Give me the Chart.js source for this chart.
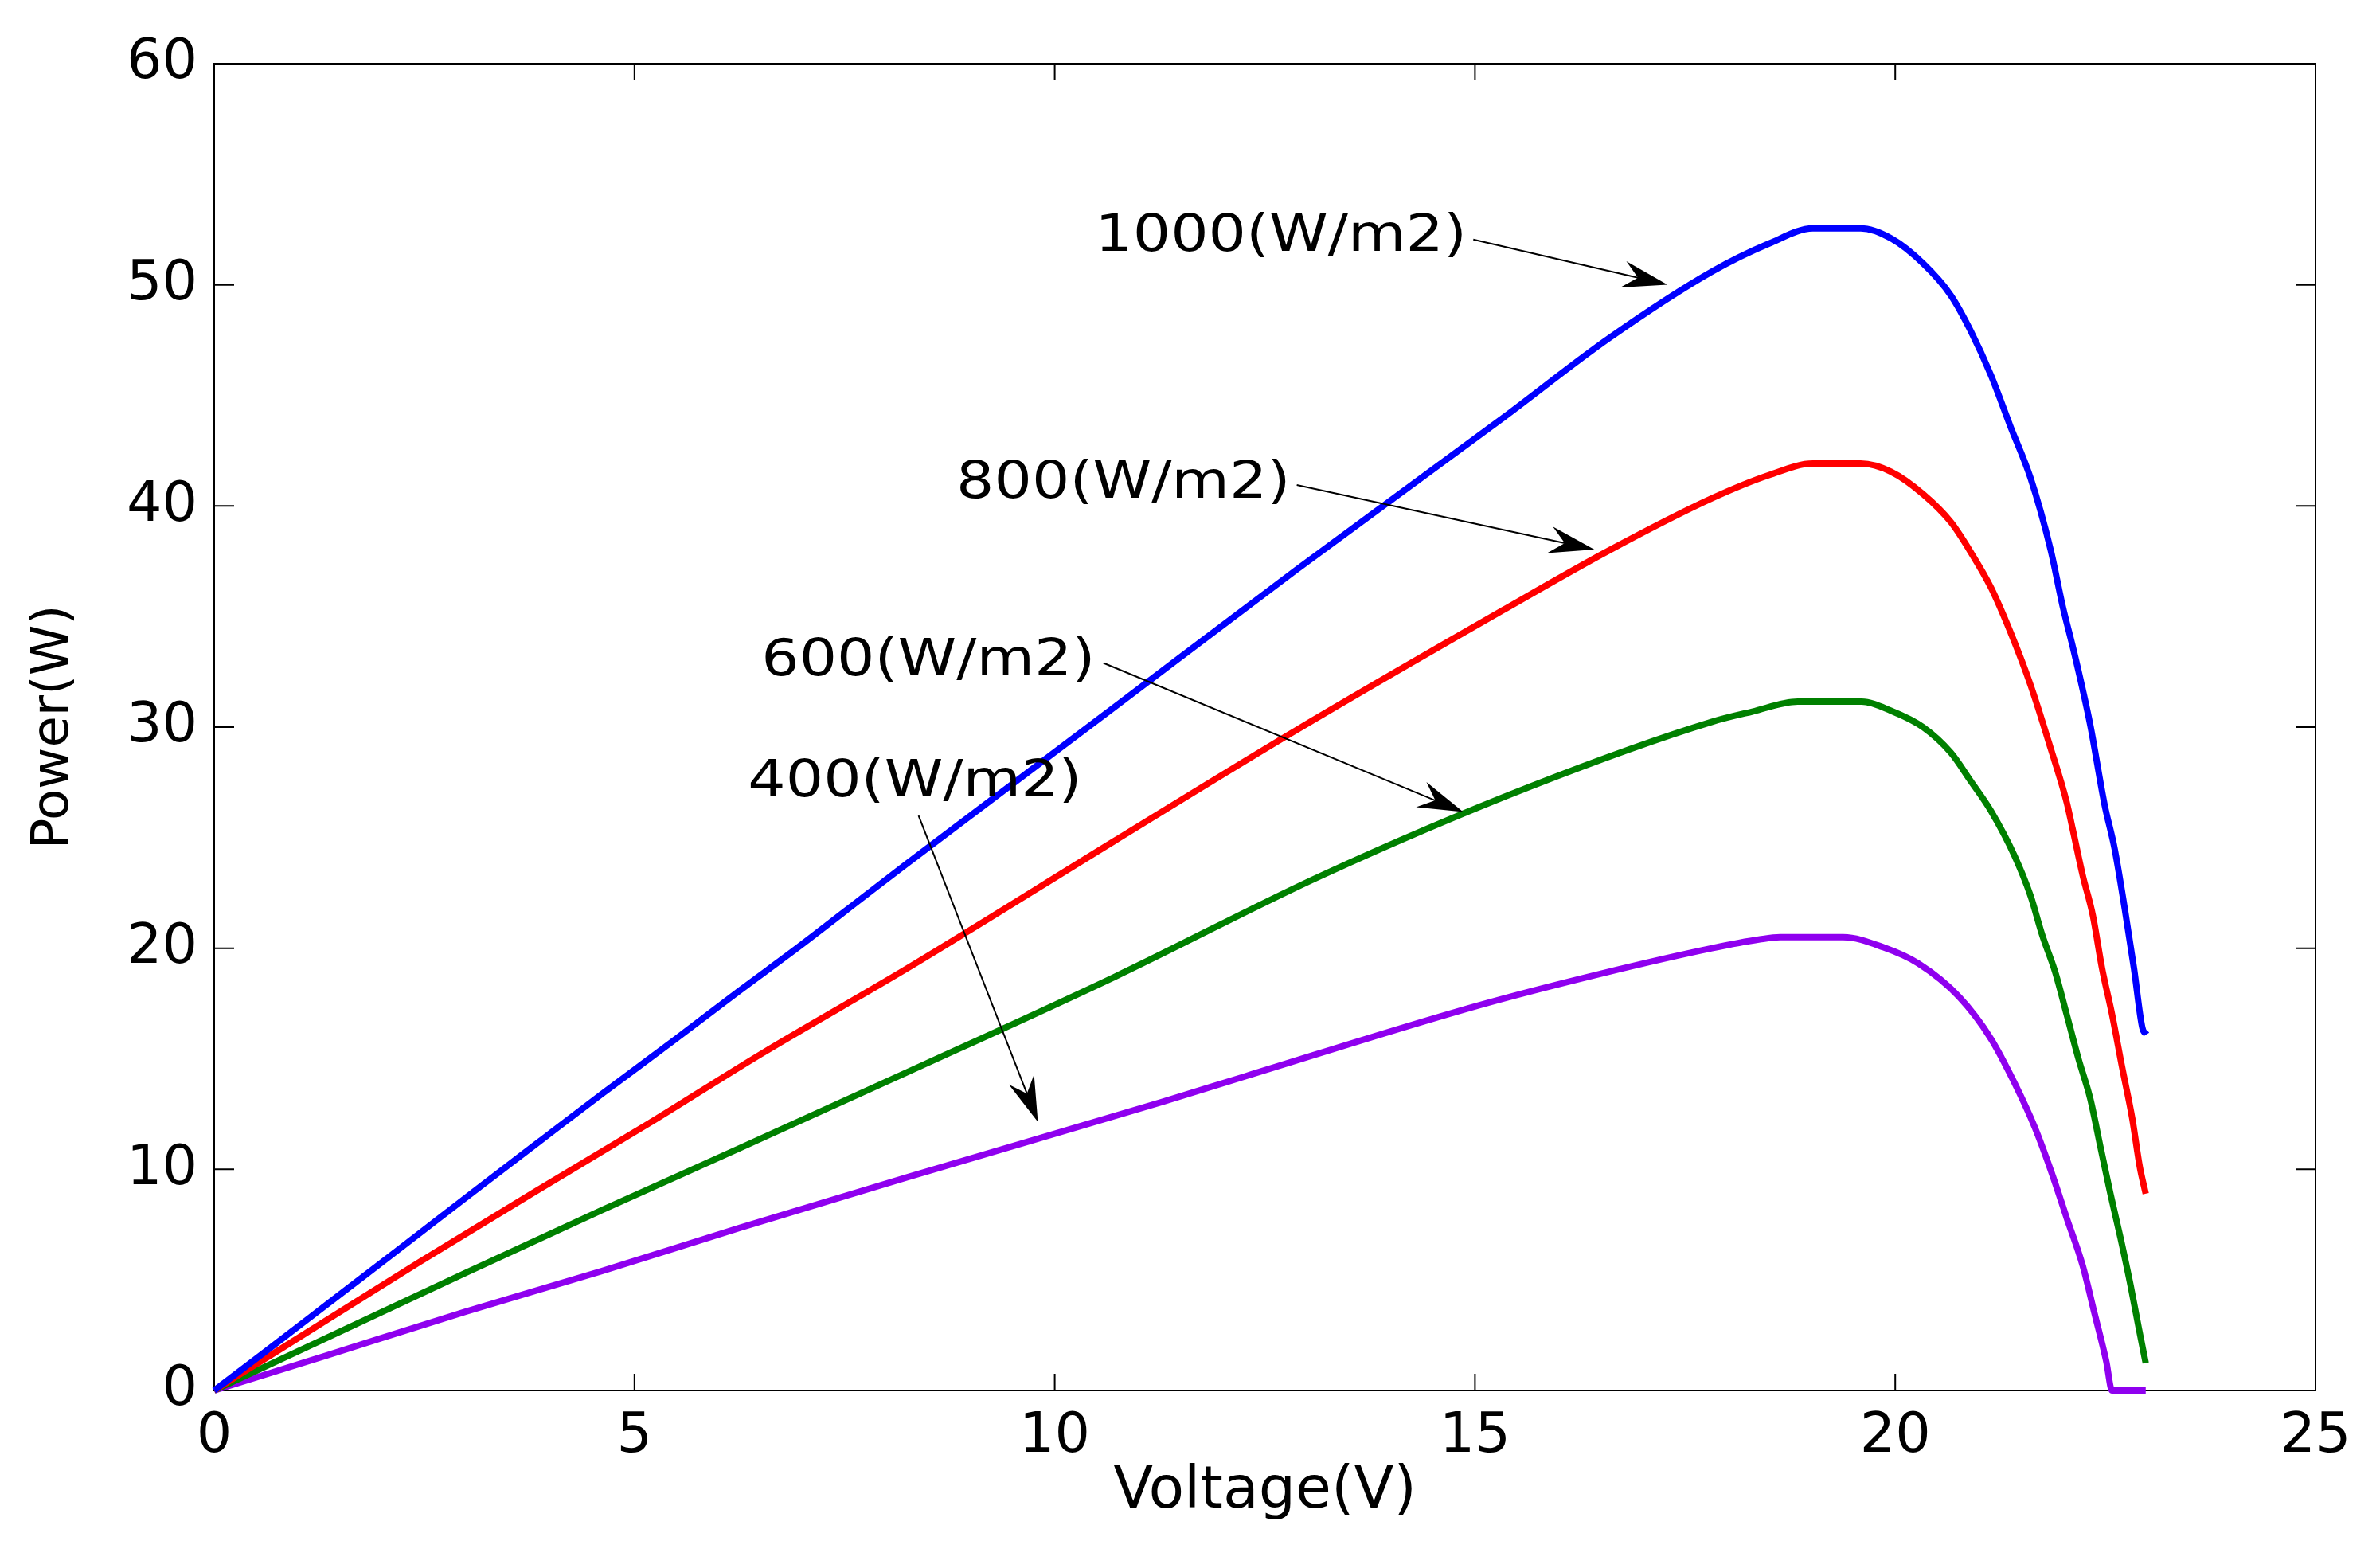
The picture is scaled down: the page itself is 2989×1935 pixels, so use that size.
<!DOCTYPE html>
<html><head><meta charset="utf-8">
<script src="https://cdn.jsdelivr.net/npm/chart.js@4"></script>
<style>html,body{margin:0;padding:0;background:#fff;overflow:hidden}canvas{display:block}</style>
</head><body>
<canvas id="c" width="2989" height="1935" style="width:2989px;height:1935px"></canvas>
<script>
const xTicks = [0, 5, 10, 15, 20, 25];
const yTicks = [0, 10, 20, 30, 40, 50, 60];
const seriesNames = ['1000(W/m2)', '800(W/m2)', '600(W/m2)', '400(W/m2)'];

const v1000 = [0, 0.59, 1.43, 2.22, 3.09, 3.9, 4.61, 5.51, 6.25, 6.95, 7.77, 8.25, 10.71, 12.87, 15.34, 16.6, 17.82, 18.5, 19.02, 19.59, 19.95, 20.33, 20.66, 20.9, 21.14, 21.37, 21.61, 21.85, 21.99, 22.13, 22.32, 22.49, 22.61, 22.73, 22.84, 22.94, 22.99];
const p1000 = [0, 1.7, 4.15, 6.45, 9.0, 11.35, 13.4, 15.95, 18.08, 20.05, 22.45, 23.85, 30.9, 37.1, 44.0, 47.6, 50.6, 51.87, 52.55, 52.55, 52.1, 50.97, 49.53, 47.9, 45.9, 43.6, 41.26, 38.0, 35.5, 33.35, 30.1, 26.5, 24.5, 21.8, 19.1, 16.4, 16.1];

const v800 = [0, 0.8, 2.44, 3.8, 5.16, 6.52, 8.25, 10.71, 12.87, 15.34, 16.6, 17.82, 18.5, 19.02, 19.59, 19.95, 20.33, 20.66, 20.9, 21.14, 21.37, 21.61, 21.85, 22.04, 22.11, 22.23, 22.35, 22.46, 22.58, 22.7, 22.82, 22.91, 22.98];
const p800 = [0, 1.9, 5.8, 8.95, 12.05, 15.25, 19.1, 24.85, 29.85, 35.3, 38.0, 40.35, 41.4, 41.92, 41.92, 41.55, 40.54, 39.28, 37.9, 36.3, 34.3, 31.9, 29.03, 26.6, 25.4, 23.3, 21.5, 19.1, 17.0, 14.6, 12.3, 10.1, 8.9];

const v600 = [0, 1.35, 2.98, 4.61, 6.25, 8.25, 10.71, 13.18, 15.65, 17.82, 18.3, 18.84, 19.6, 19.95, 20.33, 20.66, 20.9, 21.14, 21.42, 21.61, 21.75, 21.9, 22.04, 22.18, 22.32, 22.44, 22.56, 22.68, 22.8, 22.9, 22.98];
const p600 = [0, 2.4, 5.3, 8.15, 10.95, 14.4, 18.7, 23.3, 27.3, 30.24, 30.7, 31.15, 31.15, 30.74, 30.0, 28.85, 27.55, 26.2, 24.17, 22.37, 20.58, 18.96, 17.0, 15.0, 13.2, 11.04, 8.9, 6.9, 4.75, 2.77, 1.24];

const v400 = [0, 1.35, 2.98, 4.61, 6.25, 8.25, 11.28, 12.26, 15.03, 16.5, 17.82, 18.39, 18.63, 19.38, 19.86, 20.28, 20.76, 21.14, 21.42, 21.66, 21.85, 22.04, 22.23, 22.37, 22.51, 22.58, 22.98];
const p400 = [0, 1.6, 3.55, 5.4, 7.35, 9.65, 13.05, 14.2, 17.4, 18.85, 20.0, 20.4, 20.5, 20.5, 20.04, 19.3, 17.8, 15.9, 13.9, 11.9, 9.96, 7.8, 5.65, 3.5, 1.33, 0, 0];

// annotation anchors in data units: text (left, middle), arrow start, arrow tip
const labelAt = [[10.48, 52.14], [8.83, 40.97], [6.51, 32.95], [6.35, 27.48]];
const arrowFrom = [[14.98, 52.05], [12.88, 40.95], [10.58, 32.9], [8.38, 26.0]];
const arrowTo = [[17.29, 50.01], [16.42, 38.03], [14.86, 26.16], [9.80, 12.15]];

const colors = ['#0000FF', '#FF0000', '#008000', '#8F00EF'];
const vs = [v1000, v800, v600, v400];
const ps = [p1000, p800, p600, p400];

const datasets = seriesNames.map((n, i) => ({
  label: n,
  data: vs[i].map((v, k) => ({x: v, y: ps[i][k]})),
  borderColor: colors[i],
  backgroundColor: colors[i],
  borderWidth: 8,
  pointRadius: 0,
  cubicInterpolationMode: 'monotone',
  fill: false,
  borderJoinStyle: 'round',
  borderCapStyle: 'butt'
}));

const frame = {
  id: 'frame',
  beforeDatasetsDraw(chart) {
    const {ctx, chartArea: a, scales: {x, y}} = chart;
    ctx.save();
    ctx.strokeStyle = '#000';
    ctx.lineWidth = 2;
    ctx.strokeRect(a.left, a.top, a.right - a.left, a.bottom - a.top);
    ctx.beginPath();
    xTicks.forEach(v => {
      const px = x.getPixelForValue(v);
      ctx.moveTo(px, a.bottom); ctx.lineTo(px, a.bottom - 21);
      ctx.moveTo(px, a.top); ctx.lineTo(px, a.top + 21);
    });
    yTicks.forEach(v => {
      const py = y.getPixelForValue(v);
      ctx.moveTo(a.left, py); ctx.lineTo(a.left + 25, py);
      ctx.moveTo(a.right, py); ctx.lineTo(a.right - 25, py);
    });
    ctx.stroke();
    ctx.restore();
  },
  afterDatasetsDraw(chart) {
    const {ctx, scales: {x, y}} = chart;
    ctx.save();
    ctx.fillStyle = '#000';
    ctx.strokeStyle = '#000';
    ctx.font = '64px "DejaVu Sans"';
    ctx.textBaseline = 'middle';
    ctx.textAlign = 'left';
    seriesNames.forEach((n, i) => {
      const tx = x.getPixelForValue(labelAt[i][0]);
      const ty = y.getPixelForValue(labelAt[i][1]);
      ctx.save();
      ctx.translate(tx, ty);
      ctx.scale(1.165, 1);
      ctx.fillText(n, 0, 0);
      ctx.restore();
      const sx = x.getPixelForValue(arrowFrom[i][0]);
      const sy = y.getPixelForValue(arrowFrom[i][1]);
      const ex = x.getPixelForValue(arrowTo[i][0]);
      const ey = y.getPixelForValue(arrowTo[i][1]);
      const L = Math.hypot(ex - sx, ey - sy);
      const ux = (ex - sx) / L, uy = (ey - sy) / L;
      const nx = -uy, ny = ux;
      const hl = 57, hw = 17, notch = 38;
      ctx.lineWidth = 2;
      ctx.beginPath();
      ctx.moveTo(sx, sy);
      ctx.lineTo(ex - notch * ux, ey - notch * uy);
      ctx.stroke();
      ctx.beginPath();
      ctx.moveTo(ex, ey);
      ctx.lineTo(ex - hl * ux + hw * nx, ey - hl * uy + hw * ny);
      ctx.lineTo(ex - notch * ux, ey - notch * uy);
      ctx.lineTo(ex - hl * ux - hw * nx, ey - hl * uy - hw * ny);
      ctx.closePath();
      ctx.fill();
    });
    ctx.restore();
  }
};

new Chart(document.getElementById('c'), {
  type: 'line',
  data: {datasets},
  options: {
    responsive: false,
    devicePixelRatio: 1,
    animation: false,
    events: [],
    clip: false,
    layout: {padding: {left: 0, top: 80, right: 81, bottom: 0}},
    plugins: {legend: {display: false}, tooltip: {enabled: false}},
    scales: {
      x: {
        type: 'linear', min: 0, max: 25,
        afterBuildTicks(s) { s.ticks = xTicks.map(v => ({value: v})); },
        afterFit(s) { s.height = 189; },
        grid: {display: false, drawTicks: false},
        border: {display: false},
        ticks: {color: '#000', padding: 17, maxRotation: 0, autoSkip: false, font: {family: 'DejaVu Sans', size: 70}},
        title: {display: true, text: 'Voltage(V)', color: '#000', font: {family: 'DejaVu Sans', size: 73}, padding: {top: 0, bottom: 17}}
      },
      y: {
        type: 'linear', min: 0, max: 60,
        afterBuildTicks(s) { s.ticks = yTicks.map(v => ({value: v})); },
        afterFit(s) { s.width = 269; },
        grid: {display: false, drawTicks: false},
        border: {display: false},
        ticks: {color: '#000', padding: 21, autoSkip: false, font: {family: 'DejaVu Sans', size: 70}},
        title: {display: true, text: 'Power(W)', color: '#000', font: {family: 'DejaVu Sans', size: 64}, padding: {top: 30, bottom: 0}}
      }
    }
  },
  plugins: [frame]
});
</script>
</body></html>
